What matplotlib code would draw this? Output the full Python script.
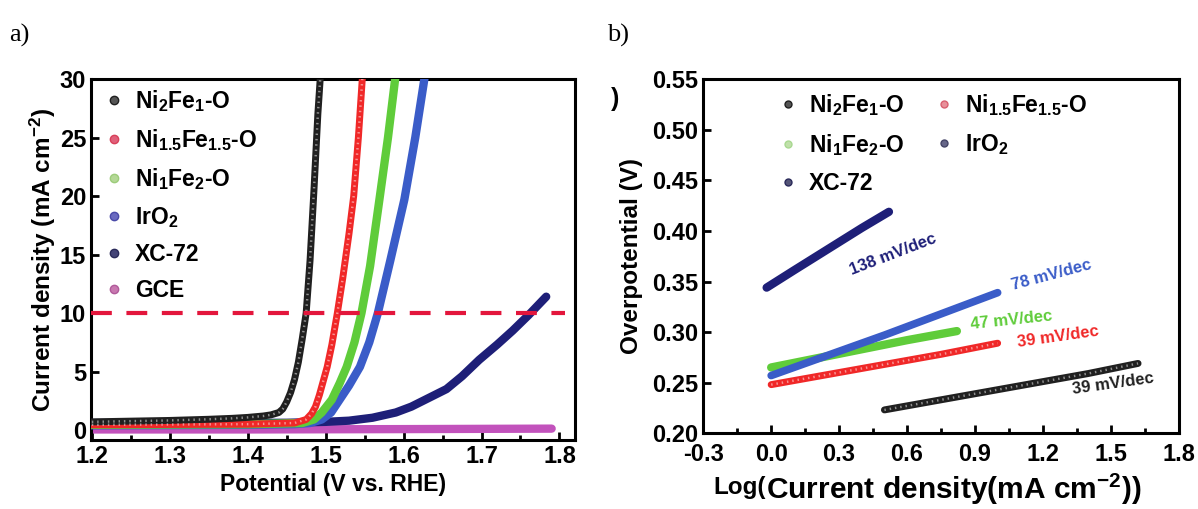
#!/usr/bin/env python3
"""
plot.py - OER polarization curves (a) and Tafel plots (b)
"""

import matplotlib

matplotlib.use("Agg")
import matplotlib.pyplot as plt
from matplotlib.lines import Line2D
from matplotlib.ticker import MultipleLocator

plt.rcParams["font.family"] = ["Liberation Sans", "DejaVu Sans"]
plt.rcParams["font.weight"] = "bold"
plt.rcParams["mathtext.fontset"] = "custom"
plt.rcParams["mathtext.rm"] = "Liberation Sans:bold"
plt.rcParams["mathtext.bf"] = "Liberation Sans:bold"
plt.rcParams["mathtext.it"] = "Liberation Sans:bold"
plt.rcParams["mathtext.default"] = "rm"
plt.rcParams["axes.unicode_minus"] = False

# ---- panel a: LSV curves (potential V vs RHE, current density mA cm-2)
ni2fe1_v = [1.20, 1.25, 1.30, 1.35, 1.38, 1.40, 1.42, 1.43, 1.44, 1.445, 1.45,
            1.455, 1.46, 1.465, 1.47, 1.475, 1.48, 1.485, 1.49, 1.494]
ni2fe1_j = [0.70, 0.76, 0.82, 0.92, 1.00, 1.08, 1.20, 1.30, 1.50, 1.80, 2.40,
            3.20, 4.30, 5.80, 7.80, 10.0, 14.5, 20.5, 27.0, 31.0]

ni15fe15_v = [1.20, 1.40, 1.46, 1.475, 1.482, 1.487, 1.492, 1.497, 1.502, 1.508,
              1.515, 1.522, 1.530, 1.536, 1.542, 1.548]
ni15fe15_j = [0.45, 0.50, 0.60, 0.90, 1.40, 2.00, 3.00, 4.20, 5.40, 7.30,
              10.0, 13.0, 16.8, 20.0, 25.0, 31.0]

ni1fe2_v = [1.20, 1.40, 1.47, 1.485, 1.495, 1.508, 1.518, 1.527, 1.537, 1.546,
            1.557, 1.569, 1.580, 1.591]
ni1fe2_j = [0.45, 0.50, 0.60, 0.90, 1.50, 2.60, 4.00, 5.40, 7.50, 10.0,
            14.0, 19.7, 25.0, 31.0]

iro2_v = [1.20, 1.40, 1.46, 1.48, 1.495, 1.507, 1.518, 1.530, 1.544, 1.556,
          1.567, 1.583, 1.601, 1.615, 1.629]
iro2_j = [0.40, 0.45, 0.50, 0.60, 0.90, 1.50, 2.60, 3.80, 5.40, 7.50,
          10.0, 14.5, 19.7, 25.0, 31.0]

xc72_v = [1.20, 1.35, 1.45, 1.50, 1.53, 1.56, 1.59, 1.61, 1.625, 1.64, 1.655,
          1.675, 1.697, 1.72, 1.74, 1.76, 1.783]
xc72_j = [0.60, 0.60, 0.62, 0.70, 0.80, 1.05, 1.50, 2.00, 2.50, 3.00, 3.50,
          4.60, 6.00, 7.30, 8.50, 9.80, 11.4]

gce_v = [1.20, 1.40, 1.60, 1.79]
gce_j = [0.05, 0.05, 0.08, 0.12]

# ---- panel b: Tafel plots (log j, overpotential V)
tafel_ni2fe1_x = [0.50, 0.80, 1.10, 1.40, 1.62]
tafel_ni2fe1_y = [0.223, 0.235, 0.247, 0.259, 0.269]
tafel_ni15fe15_x = [0.0, 0.25, 0.50, 0.75, 1.0]
tafel_ni15fe15_y = [0.248, 0.258, 0.268, 0.278, 0.289]
tafel_ni1fe2_x = [0.0, 0.2, 0.4, 0.6, 0.82]
tafel_ni1fe2_y = [0.265, 0.274, 0.283, 0.292, 0.301]
tafel_iro2_x = [0.0, 0.25, 0.50, 0.75, 1.0]
tafel_iro2_y = [0.257, 0.277, 0.297, 0.318, 0.339]
tafel_xc72_x = [-0.02, 0.1, 0.2, 0.3, 0.4, 0.52]
tafel_xc72_y = [0.344, 0.361, 0.375, 0.389, 0.403, 0.419]

slope_labels = ["138 mV/dec", "78 mV/dec", "47 mV/dec", "39 mV/dec", "39 mV/dec"]

BLACK = "#202020"
RED = "#f02828"
GREEN = "#5fcc3a"
BLUE = "#3a5cc8"
NAVY = "#1e1f78"
MAGENTA = "#c252bc"

fig = plt.figure(figsize=(11.98, 5.09), dpi=100)
ax1 = fig.add_axes([0.076, 0.1356, 0.404, 0.709])
ax2 = fig.add_axes([0.587, 0.149, 0.397, 0.695])


def beaded(ax, x, y, color, lw=5.0):
    """Thick line with a row of light holes, like densely packed open circles."""
    ax.plot(x, y, color=color, lw=lw, solid_capstyle="round",
            solid_joinstyle="round", zorder=3)
    ax.plot(x, y, color="white", lw=lw * 0.35, alpha=0.5,
            linestyle=(0, (0.6, 1.6)), zorder=4)


# ---- panel a
ax1.plot(gce_v, gce_j, color=MAGENTA, lw=6, solid_capstyle="round", zorder=2)
ax1.plot(xc72_v, xc72_j, color=NAVY, lw=6, solid_capstyle="round",
         solid_joinstyle="round", zorder=3)
ax1.plot(iro2_v, iro2_j, color=BLUE, lw=6, solid_joinstyle="round", zorder=3)
ax1.plot(ni1fe2_v, ni1fe2_j, color=GREEN, lw=6, solid_joinstyle="round", zorder=3)
beaded(ax1, ni15fe15_v, ni15fe15_j, RED, lw=5)
beaded(ax1, ni2fe1_v, ni2fe1_j, BLACK, lw=5)
ax1.axhline(10, xmin=0.0, xmax=0.98, color="#e3163c", lw=3,
            linestyle=(0, (5, 3.5)), zorder=5)

ax1.set_xlim(1.199, 1.82)
ax1.set_ylim(-0.85, 30)
ax1.xaxis.set_major_locator(MultipleLocator(0.1))
ax1.xaxis.set_minor_locator(MultipleLocator(0.05))
ax1.yaxis.set_major_locator(MultipleLocator(5))
ax1.set_xlabel("Potential (V vs. RHE)", fontsize=16.5, fontweight="bold", labelpad=4)
ax1.set_ylabel("Current density (mA cm$^{-2}$)", fontsize=17.5,
               fontweight="bold", labelpad=1)

left_handles = [
    Line2D([], [], ls="none", marker="o", ms=6, color=BLACK, mfc="#555555"),
    Line2D([], [], ls="none", marker="o", ms=6, color="#d8405a", mfc="#e0607a"),
    Line2D([], [], ls="none", marker="o", ms=6, color="#9ccc7a", mfc="#b4d896"),
    Line2D([], [], ls="none", marker="o", ms=6, color="#4a4aa8", mfc="#6a6ac0"),
    Line2D([], [], ls="none", marker="o", ms=6, color="#2a2a5a", mfc="#444477"),
    Line2D([], [], ls="none", marker="o", ms=6, color="#b05a9a", mfc="#c878b0"),
]
left_labels = [
    "Ni$_2$Fe$_1$-O",
    "Ni$_{1.5}$Fe$_{1.5}$-O",
    "Ni$_1$Fe$_2$-O",
    "IrO$_2$",
    "XC-72",
    "GCE",
]
ax1.legend(left_handles, left_labels, loc="upper left", frameon=False,
           fontsize=16.5, handlelength=0.8, handletextpad=0.5,
           labelspacing=0.57, borderaxespad=0.0, bbox_to_anchor=(0.01, 1.0))

# ---- panel b
beaded(ax2, tafel_ni2fe1_x, tafel_ni2fe1_y, BLACK, lw=5)
beaded(ax2, tafel_ni15fe15_x, tafel_ni15fe15_y, RED, lw=5)
ax2.plot(tafel_ni1fe2_x, tafel_ni1fe2_y, color=GREEN, lw=6,
         solid_capstyle="round", zorder=3)
ax2.plot(tafel_iro2_x, tafel_iro2_y, color=BLUE, lw=5.5,
         solid_capstyle="round", zorder=3)
ax2.plot(tafel_xc72_x, tafel_xc72_y, color=NAVY, lw=6,
         solid_capstyle="round", zorder=3)

ax2.text(0.54, 0.377, slope_labels[0], color=NAVY, fontsize=12,
         rotation=21, ha="center", va="center")
ax2.text(1.24, 0.356, slope_labels[1], color=BLUE, fontsize=12,
         rotation=15, ha="center", va="center")
ax2.text(1.06, 0.312, slope_labels[2], color=GREEN, fontsize=12,
         rotation=6, ha="center", va="center")
ax2.text(1.265, 0.295, slope_labels[3], color=RED, fontsize=12,
         rotation=8, ha="center", va="center")
ax2.text(1.51, 0.249, slope_labels[4], color=BLACK, fontsize=12,
         rotation=8, ha="center", va="center")

ax2.set_xlim(-0.3, 1.8)
ax2.set_ylim(0.20, 0.55)
ax2.xaxis.set_major_locator(MultipleLocator(0.3))
ax2.xaxis.set_minor_locator(MultipleLocator(0.15))
ax2.yaxis.set_major_locator(MultipleLocator(0.05))
ax2.yaxis.set_major_formatter(lambda v, pos: f"{v:.2f}")
ax2.xaxis.set_major_formatter(lambda v, pos: f"{v:.1f}")
ax2.set_ylabel("Overpotential (V)", fontsize=17.5, fontweight="bold", labelpad=7)

log_txt = ax2.text(0.022, -0.172, "Log(", transform=ax2.transAxes,
                   fontsize=17.5, fontweight="bold", ha="left", va="baseline")
ax2.annotate("Current density(mA cm$^{-2}$))", xy=(1, 0), xycoords=log_txt,
             fontsize=21.5, fontweight="bold", ha="left", va="baseline")

right_handles = [
    Line2D([], [], ls="none", marker="o", ms=5, color=BLACK, mfc="#555555"),
    Line2D([], [], ls="none", marker="o", ms=5, color="#a8d890", mfc="#c0e0aa"),
    Line2D([], [], ls="none", marker="o", ms=5, color="#2a2a5a", mfc="#555577"),
    Line2D([], [], ls="none", marker="o", ms=5, color="#d86070", mfc="#e8909a"),
    Line2D([], [], ls="none", marker="o", ms=5, color="#444466", mfc="#666688"),
]
right_labels = [
    "Ni$_2$Fe$_1$-O",
    "Ni$_1$Fe$_2$-O",
    "XC-72",
    "Ni$_{1.5}$Fe$_{1.5}$-O",
    "IrO$_2$",
]
ax2.legend(right_handles, right_labels, loc="upper left", ncol=2,
           frameon=False, fontsize=16.5, handlelength=0.8, handletextpad=0.5,
           labelspacing=0.62, columnspacing=1.35, borderaxespad=0.0,
           bbox_to_anchor=(0.14, 0.99))

for ax in (ax1, ax2):
    for spine in ax.spines.values():
        spine.set_linewidth(2.2)
    ax.tick_params(which="both", direction="in", top=False, right=False,
                   labelsize=17, width=2)
    ax.tick_params(which="major", length=6)
    ax.tick_params(which="minor", length=3.5)
    for lbl in ax.get_xticklabels() + ax.get_yticklabels():
        lbl.set_fontweight("bold")
ax2.tick_params(axis="x", pad=7)

# panel letters
fig.text(0.008, 0.93, "a)", fontsize=19, family="Liberation Serif",
         fontweight="normal", va="center")
fig.text(0.507, 0.93, "b)", fontsize=19, family="Liberation Serif",
         fontweight="normal", va="center")
fig.text(0.510, 0.805, ")", fontsize=18, fontweight="bold", va="center")

fig.savefig("out.png", dpi=100)
